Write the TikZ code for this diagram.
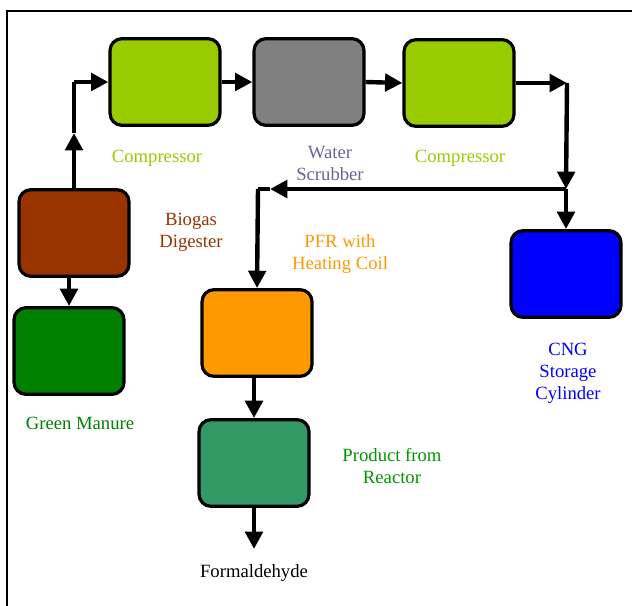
\documentclass[tikz,border=0pt]{standalone}
\usepackage{fontspec}
\setmainfont{Liberation Serif}
\usetikzlibrary{arrows.meta}
\definecolor{compcol}{RGB}{153,204,0}
\definecolor{scrubcol}{RGB}{128,128,128}
\definecolor{scrubtext}{RGB}{102,102,153}
\definecolor{digestcol}{RGB}{153,51,0}
\definecolor{manurecol}{RGB}{0,128,0}
\definecolor{pfrcol}{RGB}{255,153,0}
\definecolor{prodcol}{RGB}{51,153,102}
\definecolor{prodtext}{RGB}{0,150,0}
\definecolor{cngcol}{RGB}{0,0,255}
\begin{document}
\begin{tikzpicture}
        [x=0.75pt,y=-0.75pt,
        boxdecorate/.style={shape=rectangle,rounded corners=9pt,draw,line width=2.4pt,
          minimum width=82.5pt,minimum height=65pt,inner sep=0pt},%
        arrowdecorate/.style={-{Triangle[length=13pt,width=13pt]},line width=3.3pt},%
        linedecorate/.style={-,line width=3.3pt},%
        labeldecorate/.style={align=center,font=\fontsize{14}{16.5}\selectfont}]
        \useasboundingbox (0,0) rectangle (632,606);
        %% frame
        \draw[line width=1.6pt] (7,606) -- (7,11) -- (632,11);
        %% nodes or vertices
        \foreach \nodename/\x/\y/\shade in {compA/165/82/compcol, scrubber/309/82/scrubcol,
          compB/459/83/compcol, digester/74/233/digestcol, manure/69/351/manurecol,
          pfr/257/333/pfrcol, product/254/463/prodcol, cng/566/274/cngcol}
        {
          \node (\nodename) at (\x,\y) [boxdecorate,fill=\shade] {};
        }
        %% labels
        \foreach \labelname/\x/\y/\shade/\text in {compAlabel/157/158/compcol/Compressor,
          scrublabel/330/163/scrubtext/{Water\\Scrubber}, compBlabel/460/158/compcol/Compressor,
          digestlabel/191/232/digestcol/{Biogas\\Digester}, pfrlabel/340/254/pfrcol/{PFR with\\Heating Coil},
          cnglabel/568/373/cngcol/{CNG\\Storage\\Cylinder}, manurelabel/80/423/manurecol/Green Manure,
          prodlabel/392/466/prodtext/{Product from\\Reactor}, formlabel/254/573/black/Formaldehyde}
        {
          \node (\labelname) at (\x,\y) [labeldecorate,text=\shade] {\text};
        }
        %% junctions
        \coordinate (midA) at (74,133);
        \coordinate (bendA) at (74,82);
        \coordinate (bendB) at (567,83);
        \coordinate (split) at (566,189);
        \coordinate (midC) at (270,189);
        \coordinate (bendC) at (258,189);
        \coordinate (outlet) at (254,549);
        %% edges or lines
        \draw[arrowdecorate] (digester.north) -- (midA);
        \draw[linedecorate] (midA) -- (bendA);
        \draw[arrowdecorate] (bendA) -- (compA.west);
        \draw[arrowdecorate] (bendB) -- (split);
        \draw[arrowdecorate] (split) -- (midC);
        \draw[linedecorate] (midC) -- (bendC);
        \path
        \foreach \startnode/\endnode in {compA.east/scrubber.west, scrubber.east/compB.west,
          compB.east/bendB, split/cng.north, bendC/pfr.north, product.south/outlet}
        {
          (\startnode) edge[arrowdecorate] (\endnode)
        };
        \draw[arrowdecorate] (manure.north |- digester.south) -- (manure.north);
        \draw[arrowdecorate] (product.north |- pfr.south) -- (product.north);
      \end{tikzpicture}
\end{document}
